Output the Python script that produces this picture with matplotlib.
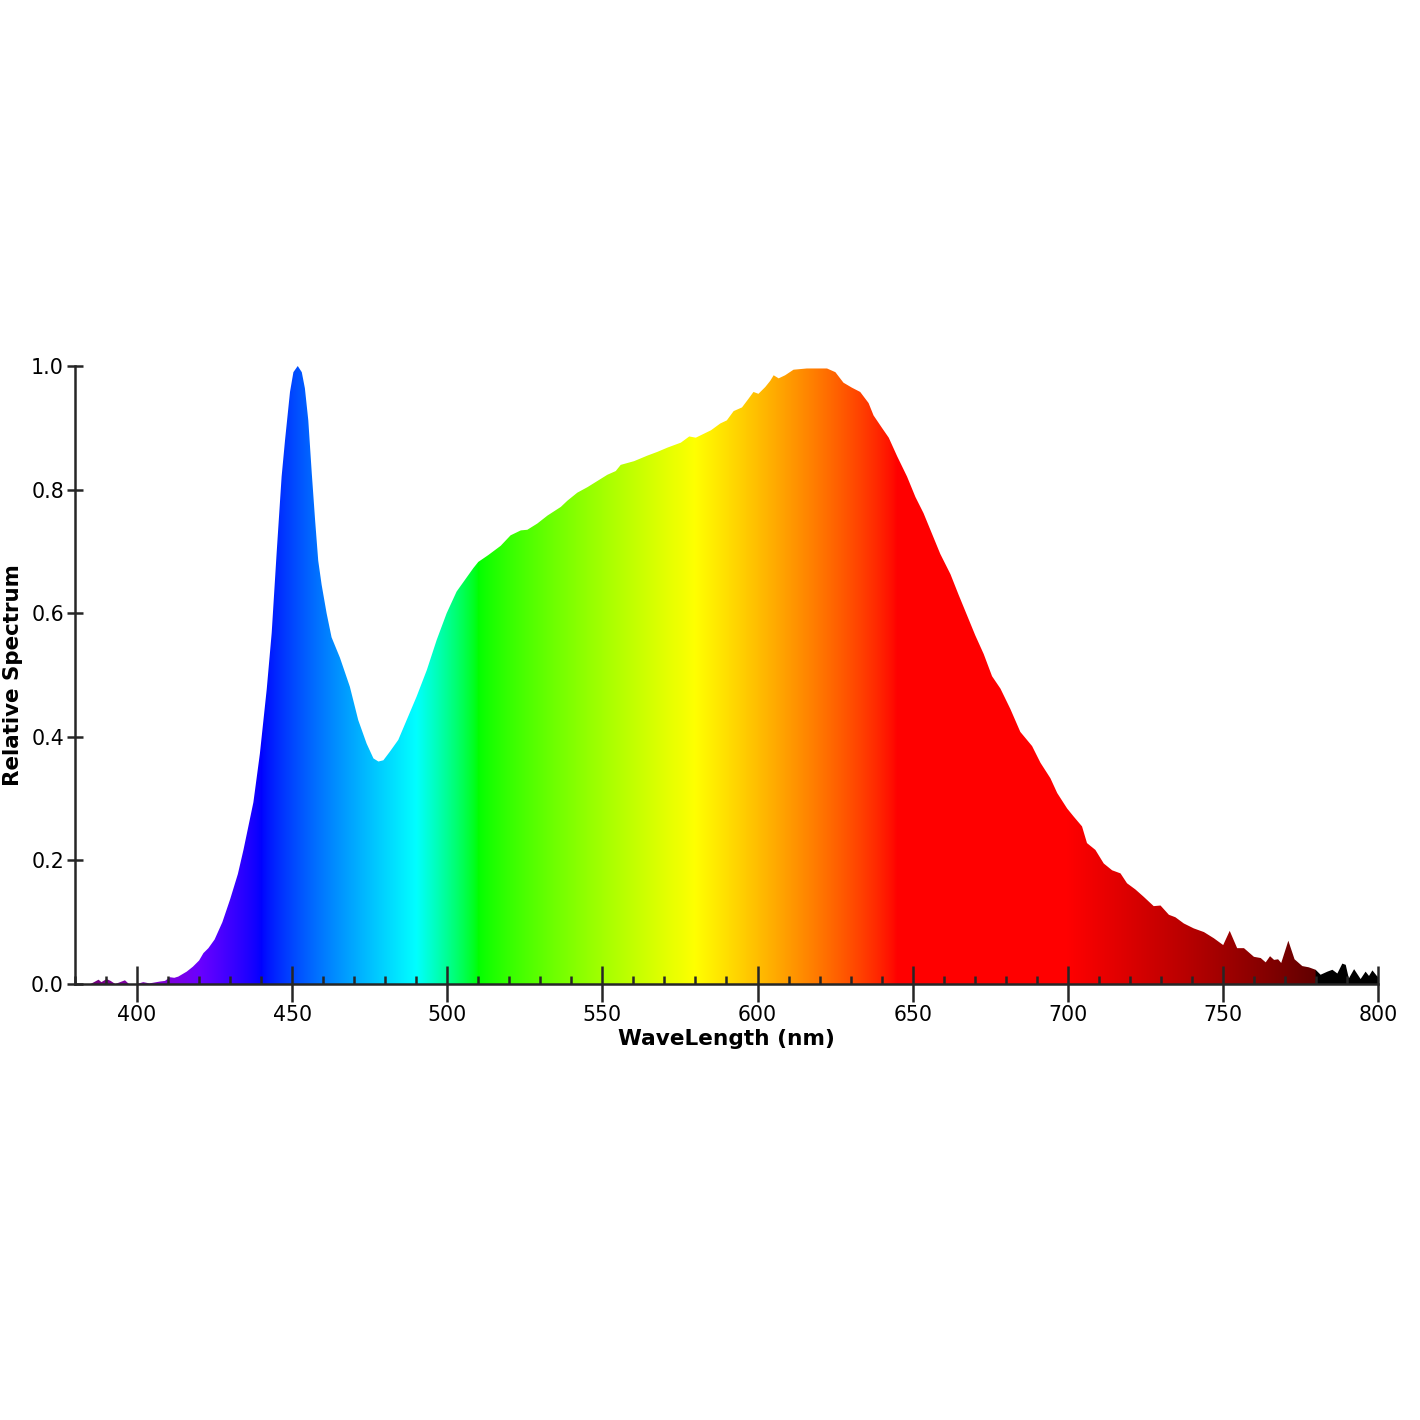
import numpy as np
import matplotlib
matplotlib.use("Agg")
import matplotlib.pyplot as plt
from matplotlib.patches import Polygon
from matplotlib.ticker import MultipleLocator

# spectrum (nm, relative intensity)
wavelength = [
    385, 386.5, 387.6, 388.5, 390.2, 391.5, 393, 396.1, 397.4, 400,
    402, 404, 407.4, 409, 410.6, 412, 413.3, 416, 418, 420,
    421.4, 423, 425, 427.5, 430, 432.5, 434.3, 437.5, 439.6, 441.8,
    443.4, 445, 446.6, 447.7, 449.3, 450.4, 451.8, 453.1, 454.1, 455.2,
    456.3, 457.4, 458.4, 459.5, 461.1, 462.7, 465.4, 468.6, 471.3, 474,
    476.2, 477.8, 479.4, 481.5, 484.2, 486.9, 490.1, 493.4, 496.6, 499.8,
    503, 505.7, 508.4, 510, 513.2, 517.2, 520.4, 523.7, 525.8, 529,
    532.3, 536.6, 538.7, 541.9, 545.2, 548.4, 551.6, 554.3, 555.9, 560.2,
    564.5, 567.7, 571, 575.3, 578, 580.1, 585, 588, 590.1, 592.3,
    595, 597.1, 598.7, 600.3, 602.5, 604.1, 605.2, 606.8, 608.9, 611.6,
    615.9, 619.1, 622.4, 625.1, 627.7, 630.4, 633.1, 635.8, 637.4, 640.1,
    642.3, 645, 648.2, 650.9, 653.5, 656.2, 658.9, 662.2, 664.8, 667.5,
    670.2, 672.9, 675.6, 678.3, 681.5, 684.7, 688.5, 691.2, 694.4, 696.6,
    699.8, 701.9, 704.6, 706.2, 708.9, 711.6, 714.3, 717, 719.1, 721.8,
    724.5, 727.7, 729.9, 732.6, 734.7, 737.4, 740.6, 743.9, 747.1, 750.1,
    752.2, 754.6, 756.8, 760, 762.2, 763.8, 765.2, 766.5, 767.8, 768.8,
    771.1, 773.1, 775.6, 777.7, 779.9, 781.5, 783.7, 785.3, 786.9, 788.5,
    789.6, 790.6, 792.3, 794.4, 796, 797.1, 798.2, 799.8, 800,
]
relative = [
    0.0, 0.004, 0.007, 0.003, 0.008, 0.005, 0.0, 0.006, 0.0, 0.0,
    0.003, 0.001, 0.004, 0.005, 0.011, 0.010, 0.012, 0.020, 0.028, 0.038,
    0.050, 0.058, 0.072, 0.100, 0.137, 0.178, 0.217, 0.294, 0.373, 0.477,
    0.568, 0.698, 0.821, 0.880, 0.958, 0.990, 1.000, 0.990, 0.964, 0.912,
    0.828, 0.750, 0.685, 0.646, 0.600, 0.561, 0.528, 0.481, 0.427, 0.389,
    0.365, 0.360, 0.362, 0.376, 0.395, 0.427, 0.465, 0.508, 0.557, 0.600,
    0.635, 0.654, 0.673, 0.683, 0.694, 0.709, 0.726, 0.734, 0.735, 0.745,
    0.758, 0.772, 0.782, 0.795, 0.804, 0.814, 0.824, 0.830, 0.840, 0.846,
    0.855, 0.861, 0.868, 0.876, 0.886, 0.884, 0.896, 0.907, 0.912, 0.927,
    0.933, 0.947, 0.958, 0.955, 0.966, 0.976, 0.985, 0.980, 0.985, 0.994,
    0.996, 0.996, 0.996, 0.990, 0.973, 0.965, 0.958, 0.940, 0.920, 0.900,
    0.884, 0.854, 0.821, 0.788, 0.762, 0.729, 0.696, 0.663, 0.630, 0.597,
    0.564, 0.534, 0.498, 0.478, 0.445, 0.408, 0.385, 0.358, 0.333, 0.309,
    0.284, 0.271, 0.255, 0.228, 0.217, 0.195, 0.184, 0.179, 0.163, 0.153,
    0.141, 0.126, 0.127, 0.112, 0.108, 0.098, 0.090, 0.084, 0.074, 0.063,
    0.086, 0.058, 0.058, 0.044, 0.042, 0.035, 0.045, 0.039, 0.040, 0.034,
    0.070, 0.040, 0.029, 0.027, 0.023, 0.015, 0.020, 0.023, 0.017, 0.033,
    0.031, 0.009, 0.024, 0.008, 0.020, 0.013, 0.022, 0.012, 0.012,
]


def wavelength_rgb(w, gamma=0.8):
    # classic Bruton approximation of visible colour
    if 380 <= w < 440:
        r, g, b = (440 - w) / 60, 0.0, 1.0
    elif 440 <= w < 490:
        r, g, b = 0.0, (w - 440) / 50, 1.0
    elif 490 <= w < 510:
        r, g, b = 0.0, 1.0, (510 - w) / 20
    elif 510 <= w < 580:
        r, g, b = (w - 510) / 70, 1.0, 0.0
    elif 580 <= w < 645:
        r, g, b = 1.0, (645 - w) / 65, 0.0
    elif 645 <= w <= 780:
        r, g, b = 1.0, 0.0, 0.0
    else:
        return (0.0, 0.0, 0.0)
    if w < 420:
        f = 0.3 + 0.7 * (w - 380) / 40
    elif w > 700:
        f = 0.3 + 0.7 * (780 - w) / 80
    else:
        f = 1.0
    return tuple((c * f) ** gamma if c > 0 else 0.0 for c in (r, g, b))


fig = plt.figure(figsize=(14.2, 14.2), dpi=100)
ax = fig.add_axes([75 / 1420, 436 / 1420, 1303 / 1420, 618 / 1420])

verts = [(wavelength[0], 0)] + list(zip(wavelength, relative)) + [(wavelength[-1], 0)]
shape = Polygon(verts, closed=True, facecolor="none", edgecolor="none")
ax.add_patch(shape)

grid = np.linspace(380, 800, 1400)
strip = np.array([wavelength_rgb(w) for w in grid])[np.newaxis, :, :]
img = ax.imshow(strip, extent=(380, 800, 0, 1), aspect="auto",
                origin="lower", interpolation="bilinear")
img.set_clip_path(shape)

ax.set_xlim(380, 800)
ax.set_ylim(0, 1)
for side in ("top", "right"):
    ax.spines[side].set_visible(False)
for side in ("left", "bottom"):
    ax.spines[side].set_color("#262626")
    ax.spines[side].set_linewidth(1.8)

ax.xaxis.set_major_locator(MultipleLocator(50))
ax.xaxis.set_minor_locator(MultipleLocator(10))
ax.yaxis.set_major_locator(MultipleLocator(0.2))
ax.tick_params(axis="x", which="major", direction="inout", length=26,
               width=1.8, color="#262626", labelsize=14.8, pad=2)
ax.tick_params(axis="x", which="minor", direction="in", length=6,
               width=1.8, color="#262626")
ax.tick_params(axis="y", which="major", direction="inout", length=12,
               width=1.8, color="#262626", labelsize=14.8, pad=2)
ax.set_xticks([400, 450, 500, 550, 600, 650, 700, 750, 800])

ax.set_xlabel("WaveLength (nm)", fontsize=15.6, fontweight="bold", labelpad=3)
ax.set_ylabel("Relative Spectrum", fontsize=15.4, fontweight="bold", labelpad=6)

fig.savefig("out.png", dpi=100, facecolor="white")
